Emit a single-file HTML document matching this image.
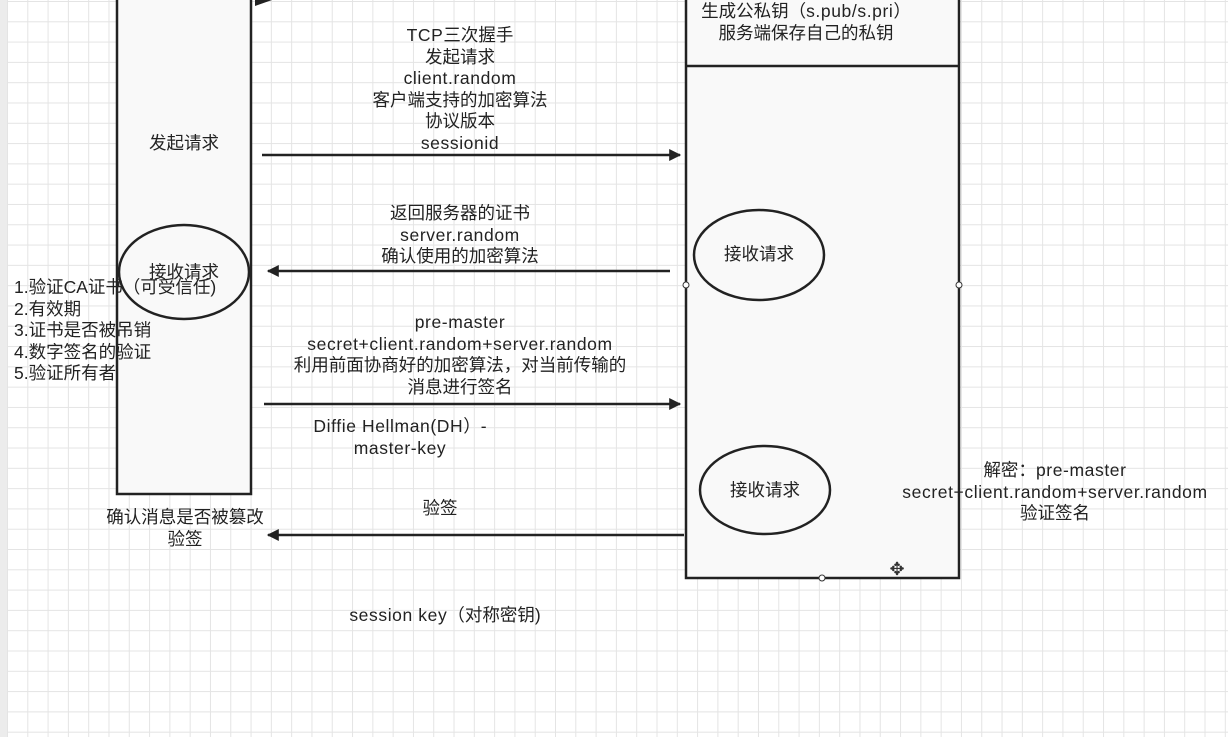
<!DOCTYPE html>
<html><head><meta charset="utf-8"><style>
html,body{margin:0;padding:0}
body{width:1228px;height:737px;overflow:hidden;position:relative;background:#fff;
background-image:linear-gradient(#e4e4e4 1px,transparent 1px),linear-gradient(90deg,#e4e4e4 1px,transparent 1px);
background-size:20.3px 20.3px;background-position:7px 1px;
font-family:"Liberation Sans","Noto Sans CJK SC",sans-serif;color:#222;font-size:17.5px}
.t{position:absolute;text-align:center;white-space:nowrap;line-height:21.6px}
.l{letter-spacing:0.6px}
</style></head><body>
<div style="position:absolute;left:0;top:0;width:7px;height:737px;background:#ececec"></div>
<svg width="1228" height="737" style="position:absolute;left:0;top:0">
<defs><marker id="b" viewBox="0 0 10 10" refX="9" refY="5" markerWidth="22" markerHeight="12" markerUnits="userSpaceOnUse" orient="auto"><path d="M0,0 L10,5 L0,10 z" fill="#222"/></marker></defs>
<rect x="117" y="-5" width="134" height="499" fill="#f9f9f9" stroke="#222" stroke-width="2.5"/>
<rect x="686" y="-5" width="273" height="583" fill="#f9f9f9" stroke="#222" stroke-width="2.5"/>
<line x1="686" y1="66" x2="959" y2="66" stroke="#222" stroke-width="2.5"/>
<path d="M255,6 L272,0 L255,0 z" fill="#222"/>
<ellipse cx="184" cy="272" rx="65" ry="47" fill="none" stroke="#222" stroke-width="2.5"/>
<ellipse cx="759" cy="255" rx="65" ry="45" fill="none" stroke="#222" stroke-width="2.5"/>
<ellipse cx="765" cy="490" rx="65" ry="44" fill="none" stroke="#222" stroke-width="2.5"/>
<line x1="262" y1="155" x2="680" y2="155" stroke="#222" stroke-width="2.5" marker-end="url(#b)"/>
<line x1="670" y1="271" x2="268" y2="271" stroke="#222" stroke-width="2.5" marker-end="url(#b)"/>
<line x1="264" y1="404" x2="680" y2="404" stroke="#222" stroke-width="2.5" marker-end="url(#b)"/>
<line x1="684" y1="535" x2="268" y2="535" stroke="#222" stroke-width="2.5" marker-end="url(#b)"/>
<circle cx="686" cy="285" r="3" fill="#fff" stroke="#333"/>
<circle cx="959" cy="285" r="3" fill="#fff" stroke="#333"/>
<circle cx="822" cy="578" r="3" fill="#fff" stroke="#333"/>
<text x="897" y="575" font-size="18" text-anchor="middle" fill="#333">✥</text>
</svg>
<div class="t" style="left:117px;width:134px;top:133px">发起请求</div>
<div class="t" style="left:119px;width:130px;top:262px">接收请求</div>
<div class="t" style="left:694px;width:130px;top:244px">接收请求</div>
<div class="t" style="left:700px;width:130px;top:480px">接收请求</div>
<div class="t" style="left:686px;width:240px;top:0px;line-height:22px">生成公私钥（<span class="l">s.pub/s.pri</span>）<br>服务端保存自己的私钥</div>
<div class="t" style="left:330px;width:260px;top:25px"><span class="l">TCP</span>三次握手<br>发起请求<br><span class="l">client.random</span><br>客户端支持的加密算法<br>协议版本<br><span class="l">sessionid</span></div>
<div class="t" style="left:330px;width:260px;top:203px">返回服务器的证书<br><span class="l">server.random</span><br>确认使用的加密算法</div>
<div class="t" style="left:270px;width:380px;top:312px"><span class="l">pre-master</span><br><span class="l">secret+client.random+server.random</span><br>利用前面协商好的加密算法，对当前传输的<br>消息进行签名</div>
<div class="t" style="left:300px;width:200px;top:416px"><span class="l">Diffie Hellman(DH</span>）-<br><span class="l">master-key</span></div>
<div class="t" style="left:380px;width:120px;top:498px">验签</div>
<div class="t" style="left:90px;width:190px;top:507px">确认消息是否被篡改<br>验签</div>
<div class="t" style="left:14px;top:277px;text-align:left">1.验证CA证书（可受信任)<br>2.有效期<br>3.证书是否被吊销<br>4.数字签名的验证<br>5.验证所有者</div>
<div class="t" style="left:895px;width:320px;top:460px">解密：<span class="l">pre-master</span><br><span class="l">secret+client.random+server.random</span><br>验证签名</div>
<div class="t" style="left:330px;width:230px;top:605px"><span class="l">session key</span>（对称密钥)</div>
</body></html>
